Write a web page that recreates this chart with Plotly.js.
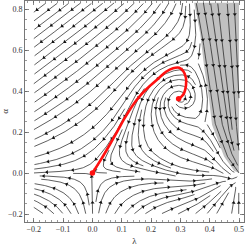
<!DOCTYPE html>
<html><head><meta charset="utf-8">
<script src="https://cdn.plot.ly/plotly-3.0.1.min.js"></script>
<style>html,body{margin:0;padding:0;background:#fff}#c{width:249px;height:248px}</style>
</head><body><div id="c"></div>
<script>
// ---- tick labels ----
const xTicks = [-0.2,-0.1,0,0.1,0.2,0.3,0.4,0.5];
const xTickText = ["\u22120.2","\u22120.1","0.0","0.1","0.2","0.3","0.4","0.5"];
const yTicks = [-0.2,0,0.2,0.4,0.6,0.8];
const yTickText = ["\u22120.2","0.0","0.2","0.4","0.6","0.8"];
// ---- red trajectory ----
const trajLambda = [0,0.029,0.057,0.084,0.111,0.139,0.166,0.197,0.224,0.251,0.275,0.296,0.309,0.319,0.319,0.313,0.302,0.294];
const trajAlpha  = [0,0.065,0.133,0.201,0.270,0.333,0.382,0.426,0.460,0.494,0.511,0.514,0.499,0.465,0.426,0.391,0.370,0.362];
// ---- red critical points ----
const pointLambda = [0, 0.294];
const pointAlpha  = [0, 0.362];
// ---- boundary of the shaded region ----
const boundLambda = [0.347,0.367,0.381,0.398,0.408,0.429,0.449,0.483,0.5];
const boundAlpha  = [0.83,0.684,0.518,0.357,0.235,0.157,0.080,0.011,0];
// ---- flow model: saddle, focus, node, shaded-region sink direction; upper-region slope (deg); stream region ----
const saddle = [0,0];
const focus = [0.294,0.362];
const node = [0.5,0];
const shadedTarget = [0.53,-0.5];
const upperSlope = [37,82];
const lamRange = [-0.2,0.5];
const alphaRange = [-0.2,0.83];

const SX=293, SY=205;
const FX=focus[0]*SX, FY=focus[1]*SY, NX=node[0]*SX, NY=node[1]*SY;
const TX=shadedTarget[0]*SX, TY=shadedTarget[1]*SY;
const OX=saddle[0]*SX, OY=saddle[1]*SY;
const BX=boundLambda.map(v=>v*SX), BY=boundAlpha.map(v=>v*SY);
const XMIN=lamRange[0]*SX, XMAX=lamRange[1]*SX, YMIN=alphaRange[0]*SY, YMAX=alphaRange[1]*SY;
function sig(t){return 1/(1+Math.exp(-t));}
function gauss(d,s){const q=d/s;return Math.exp(-q*q);}
function boundaryX(Y){
  if(Y>=BY[0]) return BX[0]+(Y-BY[0])*(BX[0]-BX[1])/(BY[0]-BY[1]);
  for(let i=0;i<BY.length-1;i++){
    if(Y<=BY[i]&&Y>=BY[i+1]){const t=(Y-BY[i+1])/(BY[i]-BY[i+1]);return BX[i+1]+t*(BX[i]-BX[i+1]);}
  }
  return BX[BX.length-1];
}
function inGray(X,Y){return Y>0 && X>boundaryX(Y);}
function nearestB(X,Y){
  let best=1e9,tx=0,ty=1;
  for(let i=0;i<BX.length-1;i++){
    const ax=BX[i+1],ay=BY[i+1],bx=BX[i],by=BY[i];
    const dx=bx-ax,dy=by-ay,L2=dx*dx+dy*dy;
    let t=((X-ax)*dx+(Y-ay)*dy)/L2; t=Math.max(0,Math.min(1,t));
    const d=Math.hypot(ax+t*dx-X,ay+t*dy-Y);
    if(d<best){best=d;const L=Math.sqrt(L2);tx=dx/L;ty=dy/L;}
  }
  return {d:best,tx,ty};
}
const PHI=73*Math.PI/180;
function field(X,Y){
  let vx=0,vy=0;
  const gray=inGray(X,Y);
  const nx=NX-X,ny=NY-Y,rn=Math.hypot(nx,ny)+1e-9;
  if(!gray){
    const a=X-FX,b=Y-FY,r=Math.hypot(a,b)+1e-9;
    let w=3*gauss(r,45);
    vx+=w*(a*Math.cos(PHI)-b*Math.sin(PHI))/r; vy+=w*(a*Math.sin(PHI)+b*Math.cos(PHI))/r;
    const xo=X-OX,yo=Y-OY;
    const m=yo>0?-1.25:0;
    const ox=xo+m*yo,oy=-yo,ro=Math.hypot(ox,oy)+1e-9,r0=Math.hypot(xo,yo);
    w=2*gauss(r0,60);
    vx+=w*ox/ro; vy+=w*oy/ro;
    w=2*gauss(rn,40);
    vx+=w*nx/rn; vy+=w*ny/rn;
    const th=(upperSlope[0]+(upperSlope[1]-upperSlope[0])*sig((X-70)/20))*Math.PI/180;
    w=sig((Y-50)/20);
    vx-=w*Math.cos(th); vy-=w*Math.sin(th);
  } else {
    const gx=TX-X,gy=TY-Y,rg=Math.hypot(gx,gy);
    const wn=gauss(rn,30);
    vx=(1-wn)*gx/rg+wn*nx/rn; vy=(1-wn)*gy/rg+wn*ny/rn;
  }
  const mag=Math.hypot(vx,vy);
  if(mag<1e-6) return null;
  let ux=vx/mag,uy=vy/mag;
  const nb=nearestB(X,Y);
  const wb=4*gauss(nb.d,10)*(1-gauss(rn,12));
  const s=(ux*nb.tx+uy*nb.ty)>=0?1:-1;
  ux+=wb*s*nb.tx; uy+=wb*s*nb.ty;
  const m2=Math.hypot(ux,uy)+1e-12;
  return {x:ux/m2,y:uy/m2,mag,wb};
}
// ---- evenly spaced streamlines ----
const DSEP=7.0, DTEST=3.3, STEP=1;
const grid=new Map();
function ck(i,j){return i*100000+j;}
function gadd(g,x,y,v){const k=ck(Math.floor(x/DSEP),Math.floor(y/DSEP));let a=g.get(k);if(!a){a=[];g.set(k,a);}a.push([x,y,v]);}
function minDistG(g,x,y,skip){
  const i0=Math.floor(x/DSEP),j0=Math.floor(y/DSEP);let best=1e9;
  for(let i=i0-1;i<=i0+1;i++)for(let j=j0-1;j<=j0+1;j++){
    const a=g.get(ck(i,j)); if(!a) continue;
    for(const p of a){ if(skip && skip(p[2])) continue; const d=Math.hypot(p[0]-x,p[1]-y); if(d<best) best=d; }
  }
  return best;
}
function inDom(x,y){return x>=XMIN&&x<=XMAX&&y>=YMIN&&y<=YMAX;}
function traceDir(x0,y0,sgn,local){
  const pts=[];let x=x0,y=y0,pdx=null,pdy=null;
  for(let k=1;k<900;k++){
    const f1=field(x,y); if(!f1) break;
    if(f1.mag<0.05 && f1.wb<0.3) break;
    const f2=field(x+0.5*STEP*sgn*f1.x,y+0.5*STEP*sgn*f1.y); if(!f2) break;
    const dx=sgn*f2.x,dy=sgn*f2.y;
    if(pdx!==null && dx*pdx+dy*pdy<0.3) break;
    const nx=x+STEP*dx,ny=y+STEP*dy;
    if(!inDom(nx,ny)) break;
    if(minDistG(grid,nx,ny)<DTEST) break;
    const sc=sgn*k;
    if(minDistG(local,nx,ny,v=>Math.abs(v-sc)<12)<DTEST) break;
    if(Math.hypot(nx-FX,ny-FY)<1.5) break;
    pts.push([nx,ny]); gadd(local,nx,ny,sc);
    x=nx;y=ny;pdx=dx;pdy=dy;
  }
  return pts;
}
const lines=[];
function tryLine(sx,sy){
  if(!inDom(sx,sy)) return null;
  if(minDistG(grid,sx,sy)<DSEP*0.92) return null;
  const local=new Map(); gadd(local,sx,sy,0);
  const fw=traceDir(sx,sy,1,local);
  const bw=traceDir(sx,sy,-1,local);
  const L=bw.reverse().concat([[sx,sy]],fw);
  if(L.length<9) return null;
  for(const p of L) gadd(grid,p[0],p[1],0);
  lines.push(L); return L;
}
const queue=[];
function runQueue(){
  while(queue.length){
    const L=queue.shift();
    for(let i=1;i<L.length-1;i+=2){
      let tx=L[i+1][0]-L[i-1][0],ty=L[i+1][1]-L[i-1][1];const tl=Math.hypot(tx,ty)||1;tx/=tl;ty/=tl;
      for(const s of [1,-1]){
        const nl=tryLine(L[i][0]-s*ty*DSEP,L[i][1]+s*tx*DSEP);
        if(nl) queue.push(nl);
      }
    }
  }
}
const first=tryLine(-30,120); if(first) queue.push(first); runQueue();
const g1=tryLine(125,150); if(g1) queue.push(g1); runQueue();
for(let y=YMAX-2;y>YMIN;y-=3){for(let x=XMIN+2;x<XMAX;x+=3){const L=tryLine(x,y);if(L){queue.push(L);runQueue();}}}

// ---- build traces ----
const sxs=[],sys=[],ax=[],ay=[],aang=[];
for(const L of lines){
  let s=0,next=10;
  for(let i=0;i<L.length;i++){
    sxs.push(L[i][0]/SX); sys.push(L[i][1]/SY);
    if(i>0) s+=Math.hypot(L[i][0]-L[i-1][0],L[i][1]-L[i-1][1]);
    if(s>=next && i<L.length-3){
      const f=field(L[i][0],L[i][1]);
      if(f){ax.push(L[i][0]/SX);ay.push(L[i][1]/SY);aang.push(Math.atan2(f.x,f.y)*180/Math.PI);}
      next+=26;
    }
  }
  sxs.push(null); sys.push(null);
}
const grayX=boundLambda.concat([0.5,0.5]);
const grayY=boundAlpha.concat([alphaRange[1],alphaRange[1]]);
const serif="Liberation Serif";
const data=[
  {x:grayX,y:grayY,type:'scatter',mode:'lines',fill:'toself',fillcolor:'rgb(192,192,192)',line:{width:0},hoverinfo:'skip'},
  {x:sxs,y:sys,type:'scatter',mode:'lines',line:{color:'#1a1a1a',width:0.7},hoverinfo:'skip'},
  {x:ax,y:ay,type:'scatter',mode:'markers',marker:{symbol:'triangle-up',size:3.6,color:'#111',angle:aang,line:{width:0}},hoverinfo:'skip'},
  {x:trajLambda,y:trajAlpha,type:'scatter',mode:'lines',line:{color:'#ff1010',width:2.6,shape:'spline'},hoverinfo:'skip'},
  {x:pointLambda,y:pointAlpha,type:'scatter',mode:'markers',marker:{color:'#ff1010',size:5.5},hoverinfo:'skip'}
];
const axisCommon={showgrid:false,zeroline:false,showline:true,mirror:'allticks',linecolor:'#555',linewidth:0.8,
  ticks:'inside',ticklen:4,tickwidth:0.7,tickcolor:'#555',tickfont:{family:serif,size:8,color:'#333'}};
const layout={width:249,height:248,margin:{l:25,r:5,t:1,b:26},showlegend:false,paper_bgcolor:'#fff',plot_bgcolor:'#fff',
  xaxis:Object.assign({},axisCommon,{range:[-0.23,0.517],tickmode:'array',tickvals:xTicks,ticktext:xTickText,
    minor:{ticks:'inside',tick0:0,dtick:0.02,ticklen:2,tickwidth:0.6,tickcolor:'#555'},
    title:{text:'λ',font:{family:serif,size:9,color:'#333'},standoff:4}}),
  yaxis:Object.assign({},axisCommon,{range:[-0.239,0.839],tickmode:'array',tickvals:yTicks,ticktext:yTickText,
    minor:{ticks:'inside',tick0:0,dtick:0.05,ticklen:2,tickwidth:0.6,tickcolor:'#555'},
    title:{text:'α',font:{family:serif,size:9,color:'#333'},standoff:3}})
};
Plotly.newPlot('c',data,layout,{staticPlot:true,displayModeBar:false});
</script></body></html>
